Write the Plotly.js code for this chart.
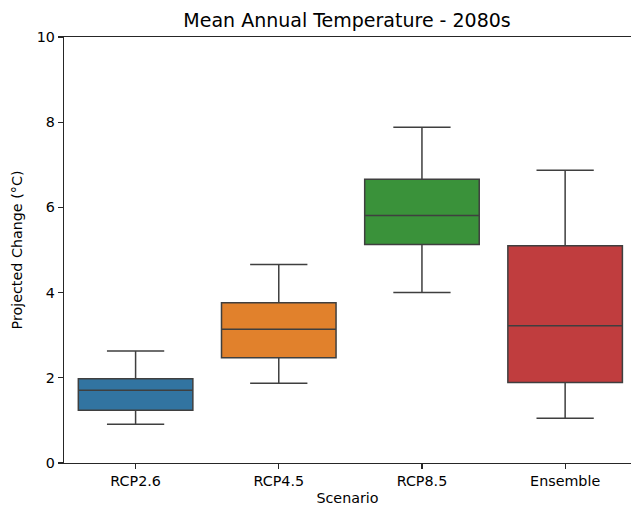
<!DOCTYPE html>
<html>
<head>
<meta charset="utf-8">
<script src="https://cdn.plot.ly/plotly-3.0.1.min.js"></script>
<style>html,body{margin:0;padding:0;background:#fff;}#chart{width:631px;height:510px;}</style>
</head>
<body>
<div id="chart"></div>
<script>
const scenarios = ["RCP2.6", "RCP4.5", "RCP8.5", "Ensemble"];
const lowerWhisker = [0.91, 1.87, 4.00, 1.05];
const q1Values = [1.24, 2.47, 5.13, 1.89];
const medianValues = [1.71, 3.14, 5.81, 3.22];
const q3Values = [1.98, 3.76, 6.66, 5.10];
const upperWhisker = [2.63, 4.66, 7.88, 6.87];
const colors = ["#3274a1", "#e1812c", "#3a923a", "#c03d3e"];

const traces = scenarios.map((s, i) => ({
  type: "box",
  x: [s],
  lowerfence: [lowerWhisker[i]],
  q1: [q1Values[i]],
  median: [medianValues[i]],
  q3: [q3Values[i]],
  upperfence: [upperWhisker[i]],
  fillcolor: colors[i],
  line: {color: "#3f3f3f", width: 1.5},
  width: 0.8,
  whiskerwidth: 0.5,
  boxpoints: false,
  showlegend: false,
  hoverinfo: "skip"
}));

const font = {family: "DejaVu Sans, sans-serif", color: "#000"};
const layout = {
  width: 631, height: 510,
  margin: {l: 64, r: 0, t: 37, b: 47},
  paper_bgcolor: "#fff", plot_bgcolor: "#fff",
  font: Object.assign({size: 14.3}, font),
  boxmode: "overlay",
  title: {text: "Mean Annual Temperature - 2080s", x: 0.55, xanchor: "center", y: 0.96, yanchor: "middle",
          font: Object.assign({size: 19}, font)},
  xaxis: {
    type: "category", categoryarray: scenarios, range: [-0.5, 3.46],
    showline: true, mirror: true, linecolor: "#262626", linewidth: 1.3,
    ticks: "outside", ticklen: 5, tickwidth: 1.2, tickcolor: "#262626",
    showgrid: false, zeroline: false,
    tickfont: Object.assign({size: 14.3}, font),
    title: {text: "Scenario", font: Object.assign({size: 14.3}, font), standoff: 4}
  },
  yaxis: {
    range: [0, 10], tickvals: [0, 2, 4, 6, 8, 10],
    showline: true, linecolor: "#262626", linewidth: 1.3,
    ticks: "outside", ticklen: 5, tickwidth: 1.2, tickcolor: "#262626",
    showgrid: false, zeroline: false,
    tickfont: Object.assign({size: 14.3}, font),
    title: {text: "Projected Change (°C)", font: Object.assign({size: 14.3}, font), standoff: 10}
  }
};
Plotly.newPlot("chart", traces, layout, {staticPlot: true, displayModeBar: false});
</script>
</body>
</html>
